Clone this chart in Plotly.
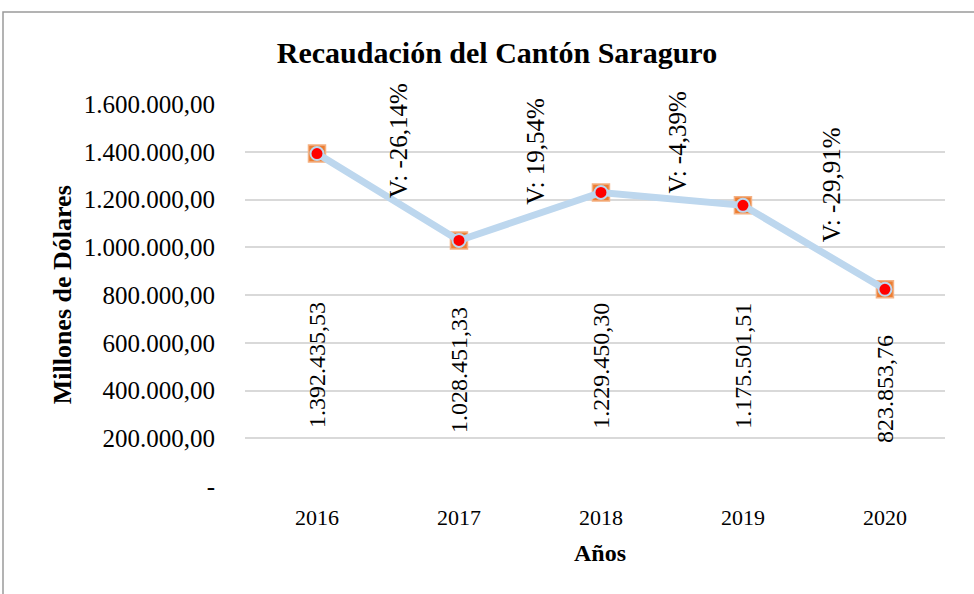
import plotly.graph_objects as go

# ---- data ----
years = ["2016", "2017", "2018", "2019", "2020"]
recaudacion = [1392435.53, 1028451.33, 1229450.30, 1175501.51, 823853.76]
value_labels = ["1.392.435,53", "1.028.451,33", "1.229.450,30", "1.175.501,51", "823.853,76"]
variation_labels = ["V: -26,14%", "V: 19,54%", "V: -4,39%", "V: -29,91%"]
y_tickvals = [0, 200000, 400000, 600000, 800000, 1000000, 1200000, 1400000, 1600000]
y_ticktext = ["-", "200.000,00", "400.000,00", "600.000,00", "800.000,00",
              "1.000.000,00", "1.200.000,00", "1.400.000,00", "1.600.000,00"]

# label placement (layout only)
value_label_y = [507000, 486000, 503000, 503000, 406000]
var_label_x = [0.57, 1.54, 2.54, 3.63]
var_label_y = [1449000, 1399000, 1437000, 1261000]

FONT = "Liberation Serif"
xs = list(range(len(years)))

fig = go.Figure()
fig.add_trace(go.Scatter(
    x=xs, y=recaudacion, mode="markers",
    marker=dict(symbol="square", size=17, color="#ED7D31",
                line=dict(color="#F4B183", width=1.5)),
    hoverinfo="skip", showlegend=False))
fig.add_trace(go.Scatter(
    x=xs, y=recaudacion, mode="lines+markers",
    line=dict(color="#BDD7EE", width=7),
    marker=dict(symbol="circle", size=13, color="#FF0000",
                line=dict(color="#BDD7EE", width=2)),
    showlegend=False))

annotations = []
for i, t in enumerate(value_labels):
    annotations.append(dict(x=xs[i], y=value_label_y[i], xref="x", yref="y",
                            text=t, showarrow=False, textangle=-90,
                            font=dict(family=FONT, size=24, color="#000000"),
                            xanchor="center", yanchor="middle"))
for i, t in enumerate(variation_labels):
    annotations.append(dict(x=var_label_x[i], y=var_label_y[i], xref="x", yref="y",
                            text=t, showarrow=False, textangle=-90,
                            font=dict(family=FONT, size=25, color="#000000"),
                            xanchor="center", yanchor="middle"))
annotations.append(dict(x=0.507, y=-0.175, xref="paper", yref="paper",
                        text="<b>Años</b>", showarrow=False,
                        font=dict(family=FONT, size=24, color="#000000"),
                        xanchor="center", yanchor="middle"))
annotations.append(dict(x=-0.261, y=0.5, xref="paper", yref="paper",
                        text="<b>Millones de Dólares</b>", showarrow=False, textangle=-90,
                        font=dict(family=FONT, size=26, color="#000000"),
                        xanchor="center", yanchor="middle"))

fig.update_layout(
    width=974, height=594,
    margin=dict(l=245, r=29, t=104, b=108),
    paper_bgcolor="white", plot_bgcolor="white",
    title=dict(text="<b>Recaudación del Cantón Saraguro</b>",
               x=497 / 974, xanchor="center", y=1 - 52 / 594, yanchor="middle",
               font=dict(family=FONT, size=30, color="#000000")),
    annotations=annotations,
    shapes=[dict(type="rect", xref="paper", yref="paper",
                 x0=(3 - 245) / 700, x1=1.2, y0=-0.5, y1=(486 - 12) / 382,
                 line=dict(color="#9A9A9A", width=1.5), fillcolor="rgba(0,0,0,0)",
                 layer="below")],
)
fig.update_xaxes(
    range=[-0.507, 4.423], tickvals=xs, ticktext=years,
    showgrid=False, zeroline=False, showline=False,
    ticks="outside", ticklen=12, tickcolor="rgba(0,0,0,0)",
    tickfont=dict(family=FONT, size=22, color="#000000"))
fig.update_yaxes(
    range=[0, 1600000], tickvals=y_tickvals, ticktext=y_ticktext,
    showgrid=True, gridcolor="#D9D9D9", gridwidth=2,
    zeroline=False, showline=False,
    ticks="outside", ticklen=24, tickcolor="rgba(0,0,0,0)",
    tickfont=dict(family=FONT, size=25, color="#000000"))

fig.write_html("out.html", config={"displayModeBar": False},
               post_script="document.body.style.margin='0';")
